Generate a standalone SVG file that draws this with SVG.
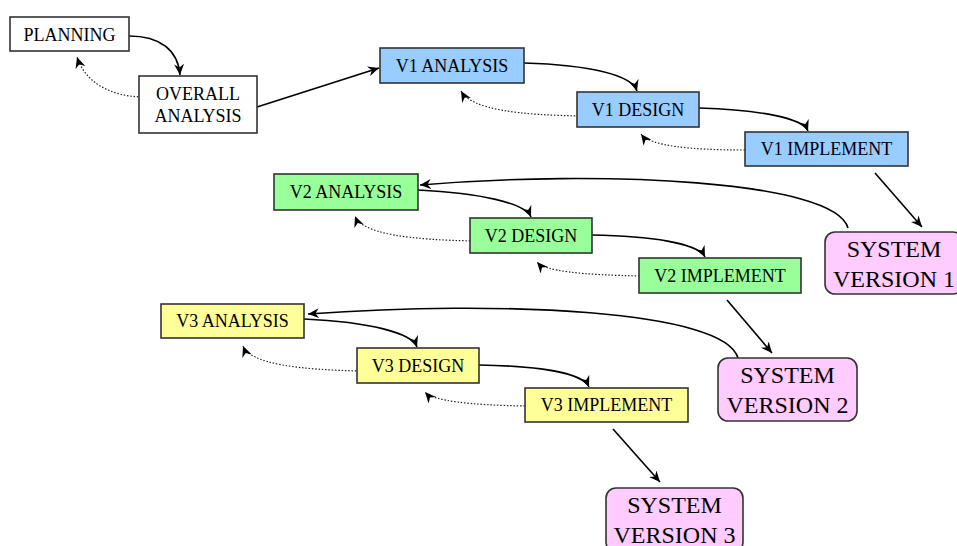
<svg xmlns="http://www.w3.org/2000/svg" width="957" height="546" viewBox="0 0 957 546">
  <style>
    .box { stroke: #333; stroke-width: 1.6; }
    .plain { fill: #ffffff; }
    .v1 { fill: #99ccff; }
    .v2 { fill: #99ff99; }
    .v3 { fill: #ffff99; }
    .sys { fill: #ffccff; }
    .lbl { font-family: "Liberation Serif", "Times New Roman", serif; font-size: 18px; fill: #000; text-anchor: middle; }
    .big { font-size: 24px; }
    .flow { fill: none; stroke: #000; stroke-width: 1.6; marker-end: url(#head); }
    .back { fill: none; stroke: #222; stroke-width: 1.2; stroke-dasharray: 1.5 1.8; marker-end: url(#head); }
  </style>
  <defs>
    <marker id="head" markerUnits="userSpaceOnUse" markerWidth="12" markerHeight="10" refX="11" refY="5" orient="auto">
      <path d="M0,0 L11,5 L0,10 L3.5,5 z" fill="#000"/>
    </marker>
  </defs>
  <rect width="957" height="546" fill="#ffffff"/>

  <g id="connectors">
    <path class="flow" d="M129,36 C160,36 178,50 180,75"/>
    <path class="back" d="M145,97 C110,97 85,82 77,57"/>
    <path class="flow" d="M257,107 L379,68"/>

    <path class="flow" d="M524,63 C590,65 632,75 637,91"/>
    <path class="back" d="M582,116 C520,115 472,110 461,91"/>
    <path class="flow" d="M699,108 C760,110 803,118 808,131"/>
    <path class="back" d="M745,150 C690,150 650,146 641,134"/>
    <path class="flow" d="M875,173 L922,227"/>
    <path class="flow" d="M848,228 C835,180 600,170 420,185"/>

    <path class="flow" d="M418,190 C480,193 525,203 531,217"/>
    <path class="back" d="M477,241 C410,240 362,234 355,216"/>
    <path class="flow" d="M592,235 C650,236 698,243 705,257"/>
    <path class="back" d="M643,276 C580,275 545,271 537,262"/>
    <path class="flow" d="M727,300 L772,353"/>
    <path class="flow" d="M738,358 C725,310 500,300 308,314"/>

    <path class="flow" d="M304,319 C370,322 412,333 417,347"/>
    <path class="back" d="M363,371 C300,370 250,364 243,346"/>
    <path class="flow" d="M479,365 C540,366 583,373 589,387"/>
    <path class="back" d="M525,406 C470,405 433,401 425,392"/>
    <path class="flow" d="M613,429 L660,482"/>
  </g>

  <g id="planning">
    <rect class="box plain" x="10" y="17" width="119" height="34"/>
    <text class="lbl" x="69.5" y="41">PLANNING</text>
  </g>
  <g id="overall-analysis">
    <rect class="box plain" x="139" y="76" width="118" height="57"/>
    <text class="lbl" x="198" y="100">OVERALL</text>
    <text class="lbl" x="198" y="122">ANALYSIS</text>
  </g>

  <g id="v1-analysis">
    <rect class="box v1" x="380" y="48" width="144" height="35"/>
    <text class="lbl" x="452" y="72">V1 ANALYSIS</text>
  </g>
  <g id="v1-design">
    <rect class="box v1" x="577" y="92" width="122" height="35"/>
    <text class="lbl" x="638" y="116">V1 DESIGN</text>
  </g>
  <g id="v1-implement">
    <rect class="box v1" x="745" y="132" width="163" height="34"/>
    <text class="lbl" x="826.5" y="155">V1 IMPLEMENT</text>
  </g>
  <g id="system-version-1">
    <rect class="box sys" x="825" y="232" width="138" height="62" rx="10" ry="10"/>
    <text class="lbl big" x="894" y="257">SYSTEM</text>
    <text class="lbl big" x="894" y="287">VERSION 1</text>
  </g>

  <g id="v2-analysis">
    <rect class="box v2" x="274" y="174" width="144" height="36"/>
    <text class="lbl" x="346" y="198">V2 ANALYSIS</text>
  </g>
  <g id="v2-design">
    <rect class="box v2" x="470" y="218" width="122" height="35"/>
    <text class="lbl" x="531" y="242">V2 DESIGN</text>
  </g>
  <g id="v2-implement">
    <rect class="box v2" x="639" y="258" width="162" height="35"/>
    <text class="lbl" x="720" y="282">V2 IMPLEMENT</text>
  </g>
  <g id="system-version-2">
    <rect class="box sys" x="718" y="358" width="139" height="63" rx="10" ry="10"/>
    <text class="lbl big" x="787.5" y="383">SYSTEM</text>
    <text class="lbl big" x="787.5" y="413">VERSION 2</text>
  </g>

  <g id="v3-analysis">
    <rect class="box v3" x="161" y="304" width="143" height="34"/>
    <text class="lbl" x="232.5" y="327">V3 ANALYSIS</text>
  </g>
  <g id="v3-design">
    <rect class="box v3" x="357" y="348" width="122" height="35"/>
    <text class="lbl" x="418" y="372">V3 DESIGN</text>
  </g>
  <g id="v3-implement">
    <rect class="box v3" x="525" y="388" width="163" height="34"/>
    <text class="lbl" x="606.5" y="411">V3 IMPLEMENT</text>
  </g>
  <g id="system-version-3">
    <rect class="box sys" x="606" y="488" width="137" height="64" rx="10" ry="10"/>
    <text class="lbl big" x="674.5" y="513">SYSTEM</text>
    <text class="lbl big" x="674.5" y="543">VERSION 3</text>
  </g>
</svg>
